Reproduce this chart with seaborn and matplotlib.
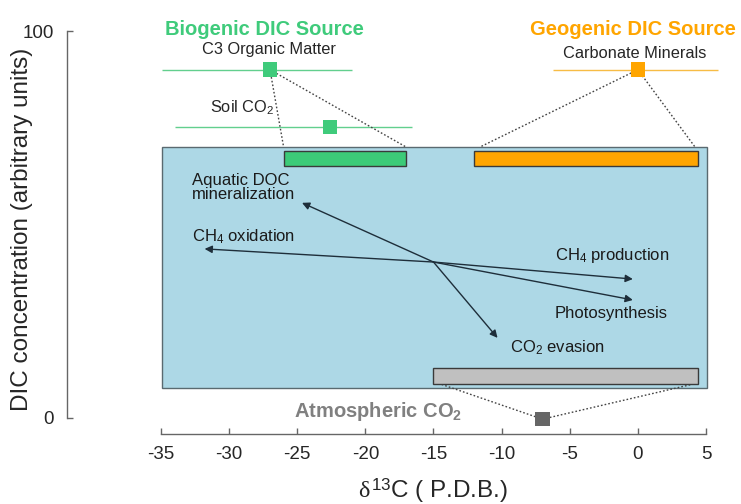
import matplotlib
matplotlib.use("Agg")
import matplotlib.pyplot as plt
import seaborn as sns
import pandas as pd

# ---------------- data ----------------
src_names = ["C3 Organic Matter", "Soil CO2", "Carbonate Minerals", "Atmospheric CO2"]
src_x = [-27.0, -22.6, 0.0, -7.0]
src_y = [90.0, 75.2, 90.0, -0.3]
src_colors = ["#3FCB7B", "#3FCB7B", "#FFA500", "#666666"]

range_lo = [-34.9, -34.0, -6.2]
range_hi = [-21.0, -16.6, 5.9]
range_y = [90.0, 75.2, 90.0]
range_colors = ["#62CF8E", "#62CF8E", "#F7BC45"]

# aquatic box (x range, y range)
box_x = [-34.9, 5.05]
box_y = [7.75, 70.0]

# signature bars: biogenic, geogenic, atmospheric
bar_lo = [-26.0, -12.0, -15.0]
bar_hi = [-17.0, 4.4, 4.4]
bar_bottom = [65.0, 65.0, 8.8]
bar_top = [69.0, 69.0, 12.9]
bar_colors = ["#3CCB78", "#FFA500", "#C0C0C0"]

# process arrows from a common centre
centre = (-15.0, 40.3)
arrow_x = [-24.65, -31.8, -0.37, -0.37, -10.3]
arrow_y = [55.6, 43.7, 35.9, 30.5, 20.7]

xticks = [-35, -30, -25, -20, -15, -10, -5, 0, 5]
yticks = [0, 100]

# ---------------- style ----------------
sns.set_style("ticks")
plt.rcParams["font.family"] = ["Liberation Sans", "DejaVu Sans"]
plt.rcParams["mathtext.fontset"] = "custom"
plt.rcParams["mathtext.rm"] = "Liberation Sans"
plt.rcParams["mathtext.it"] = "Liberation Serif"
plt.rcParams["mathtext.bf"] = "Liberation Sans:bold"
plt.rcParams["axes.unicode_minus"] = False

fig = plt.figure(figsize=(7.41, 5.04), dpi=100)
W, H = 741, 504
ax = fig.add_axes([161 / W, (H - 418) / H, (706 - 161) / W, (418 - 31) / H])
ax.set_facecolor("none")

# aquatic box
ax.barh(y=(box_y[0] + box_y[1]) / 2, width=box_x[1] - box_x[0], left=box_x[0],
        height=box_y[1] - box_y[0], color="#ADD8E6", edgecolor="#5A6A70",
        linewidth=1.0, clip_on=False, zorder=1)

# signature bars
for lo, hi, b, t, c in zip(bar_lo, bar_hi, bar_bottom, bar_top, bar_colors):
    ax.barh(y=(b + t) / 2, width=hi - lo, left=lo, height=t - b, color=c,
            edgecolor="#3A3A3A", linewidth=1.0, clip_on=False, zorder=3)

# range lines
for lo, hi, y, c in zip(range_lo, range_hi, range_y, range_colors):
    ax.hlines(y, lo, hi, colors=c, linewidth=1.0, clip_on=False, zorder=2)

# dotted connector lines
dot_kw = dict(color="#444444", linestyle=(0, (1.2, 1.5)), linewidth=1.0, clip_on=False, zorder=2)
ax.plot([src_x[0], bar_lo[0]], [src_y[0], box_y[1]], **dot_kw)
ax.plot([src_x[0], bar_hi[0]], [src_y[0], box_y[1]], **dot_kw)
ax.plot([src_x[2], bar_lo[1] + 0.4], [src_y[2], box_y[1]], **dot_kw)
ax.plot([src_x[2], bar_hi[1] - 0.2], [src_y[2], box_y[1]], **dot_kw)
ax.plot([src_x[3], bar_lo[2] + 0.5], [src_y[3], bar_bottom[2]], **dot_kw)
ax.plot([src_x[3], bar_hi[2] - 0.3], [src_y[3], bar_bottom[2]], **dot_kw)

# source markers
df = pd.DataFrame({"x": src_x, "y": src_y, "name": src_names})
sns.scatterplot(data=df, x="x", y="y", hue="name", palette=src_colors, marker="s",
                s=110, edgecolor="none", legend=False, ax=ax, clip_on=False, zorder=5)

# arrows
for ex, ey in zip(arrow_x, arrow_y):
    ax.annotate("", xy=(ex, ey), xytext=centre,
                arrowprops=dict(arrowstyle="-|>", color="#1E2E3A", lw=1.0,
                                mutation_scale=11, shrinkA=0, shrinkB=0),
                zorder=4)

# texts
ax.text(-27.4, 100.3, "Biogenic DIC Source", color="#3FCB7B", fontsize=14.5,
        fontweight="bold", ha="center", va="center", clip_on=False)
ax.text(-0.37, 100.3, "Geogenic DIC Source", color="#FFA500", fontsize=14.5,
        fontweight="bold", ha="center", va="center", clip_on=False)
ax.text(-27.1, 95.1, "C3 Organic Matter", fontsize=11.8, ha="center", va="center")
ax.text(-0.2, 94.3, "Carbonate Minerals", fontsize=11.8, ha="center", va="center")
ax.text(-29.05, 80.1, "Soil CO$_2$", fontsize=11.8, ha="center", va="center")
ax.text(-32.7, 59.6, "Aquatic DOC\nmineralization", fontsize=12, ha="left",
        va="center", linespacing=0.95, color="#1A1A1A")
ax.text(-32.7, 46.8, "CH$_4$ oxidation", fontsize=12, ha="left", va="center", color="#1A1A1A")
ax.text(-6.1, 42.1, "CH$_4$ production", fontsize=12, ha="left", va="center", color="#1A1A1A")
ax.text(-6.1, 27.1, "Photosynthesis", fontsize=12, ha="left", va="center", color="#1A1A1A")
ax.text(-9.4, 18.1, "CO$_2$ evasion", fontsize=12, ha="left", va="center", color="#1A1A1A")
ax.text(-19.1, 1.6, r"Atmospheric CO$_\mathbf{2}$", color="#808080", fontsize=14.5,
        fontweight="bold", ha="center", va="center", clip_on=False)

# axes
ax.set_xlim(-35, 5)
ax.set_ylim(0, 100)
ax.set_xticks(xticks)
ax.set_yticks(yticks)
ax.tick_params(axis="both", direction="in", length=4, width=1, color="#666666",
               labelsize=13.5, pad=9)
sns.despine(ax=ax, offset={"left": 68, "bottom": 11.5})
for side in ["left", "bottom"]:
    ax.spines[side].set_color("#666666")
    ax.spines[side].set_linewidth(1.0)

ax.set_xlabel(r"$\delta^{13}$C ( P.D.B.)", fontsize=17.5, labelpad=6)
ax.set_ylabel("DIC concentration (arbitrary units)", fontsize=17.5, labelpad=8)
ax.yaxis.set_label_coords(-(161 - 33) / (706 - 161), 0.488)
ax.xaxis.set_label_coords(0.5, -(476 - 418) / (418 - 31))

fig.savefig("out.png", dpi=100)
